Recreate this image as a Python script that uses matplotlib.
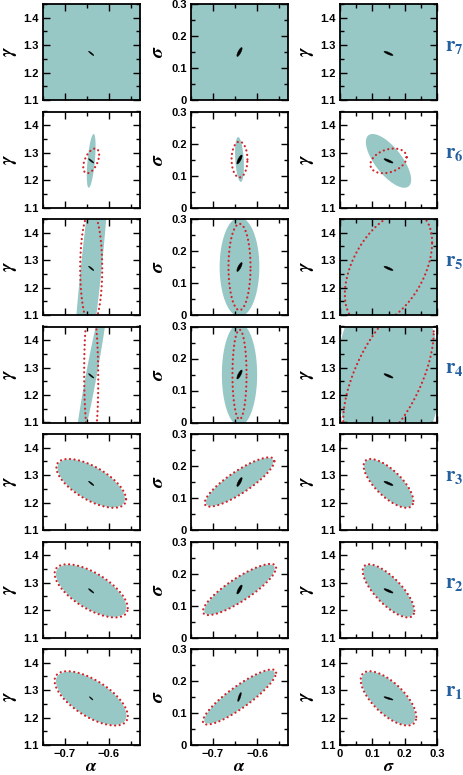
import numpy as np
import matplotlib
matplotlib.use('Agg')
import matplotlib.pyplot as plt
from matplotlib.ticker import FixedLocator, MultipleLocator

plt.rcParams['mathtext.fontset'] = 'stix'
plt.rcParams['font.family'] = ['Liberation Sans', 'DejaVu Sans']
plt.rcParams['font.weight'] = 'bold'

# fiducial values of the parameters
alpha0 = -0.64
sigma0 = 0.15
gamma0 = 1.27

row_names = ['7', '6', '5', '4', '3', '2', '1']   # top -> bottom

# ellipse half-extents and correlations per row (alpha, sigma, gamma)
# teal filled contours
fill_a_alpha = [1.0, 0.010, 0.045, 0.040, 0.0765, 0.080, 0.080]
fill_a_sigma = [1.0, 0.070, 0.155, 0.160, 0.075, 0.078, 0.083]
fill_a_gamma = [2.0, 0.098, 0.60, 0.33, 0.087, 0.0945, 0.0965]
fill_r_as = [0.0, -0.3, 0.0, 0.0, 0.85, 0.85, 0.88]
fill_r_ag = [0.0, 0.55, 0.85, 0.95, -0.65, -0.65, -0.65]
fill_r_sg = [0.0, -0.7, 0.0, 0.0, -0.72, -0.75, -0.68]

# red dotted contours
red_a_alpha = [1.0, 0.018, 0.025, 0.016, 0.079, 0.083, 0.083]
red_a_sigma = [1.0, 0.056, 0.135, 0.140, 0.077, 0.080, 0.086]
red_a_gamma = [2.0, 0.045, 0.21, 0.27, 0.089, 0.097, 0.099]
red_r_as = [0.0, 0.0, 0.0, 0.0, 0.85, 0.85, 0.88]
red_r_ag = [0.0, 0.5, 0.0, -0.05, -0.65, -0.65, -0.65]
red_r_sg = [0.0, 0.3, 0.45, 0.6, -0.72, -0.75, -0.68]

# small black contours
blk_a_alpha = [0.006, 0.006, 0.006, 0.006, 0.006, 0.006, 0.004]
blk_a_sigma = [0.014, 0.014, 0.014, 0.014, 0.014, 0.014, 0.014]
blk_a_gamma = [0.008, 0.008, 0.008, 0.008, 0.008, 0.008, 0.006]
blk_r_as = [0.8, 0.8, 0.8, 0.8, 0.8, 0.8, 0.8]
blk_r_ag = [-0.93, -0.93, -0.93, -0.93, -0.93, -0.93, -0.93]
blk_r_sg = [-0.85, -0.85, -0.85, -0.85, -0.85, -0.85, -0.85]

# axes
alpha_lim = (-0.75, -0.53)
sigma_lim = (0.0, 0.3)
gamma_lim = (1.1, 1.45)
alpha_ticks = [-0.7, -0.6]
alpha_labels = ['\u22120.7', '\u22120.6']
sigma_ticks = [0.0, 0.1, 0.2, 0.3]
sigma_labels = ['0', '0.1', '0.2', '0.3']
gamma_ticks = [1.1, 1.2, 1.3, 1.4]
gamma_labels = ['1.1', '1.2', '1.3', '1.4']

fill_color = '#97c8c6'
red_color = '#d0242a'
row_color = '#2360a0'


def ellipse(cx, cy, ax_, ay_, rho):
    t = np.linspace(0, 2 * np.pi, 400)
    x = cx + ax_ * np.cos(t)
    y = cy + ay_ * (rho * np.cos(t) + np.sqrt(1 - rho ** 2) * np.sin(t))
    return x, y


# panel: (x param, y param)
panels = [('alpha', 'gamma'), ('alpha', 'sigma'), ('sigma', 'gamma')]
centers = {'alpha': alpha0, 'sigma': sigma0, 'gamma': gamma0}
lims = {'alpha': alpha_lim, 'sigma': sigma_lim, 'gamma': gamma_lim}
ticks = {'alpha': (alpha_ticks, alpha_labels), 'sigma': (sigma_ticks, sigma_labels),
         'gamma': (gamma_ticks, gamma_labels)}
greek = {'alpha': r'$\alpha$', 'sigma': r'$\sigma$', 'gamma': r'$\gamma$'}


def pick(row, px, py, a_al, a_si, a_ga, r_as, r_ag, r_sg):
    a = {'alpha': a_al[row], 'sigma': a_si[row], 'gamma': a_ga[row]}
    r = {('alpha', 'sigma'): r_as[row], ('alpha', 'gamma'): r_ag[row],
         ('sigma', 'gamma'): r_sg[row]}
    return a[px], a[py], r[(px, py)]


W, H = 463, 775
fig = plt.figure(figsize=(W / 100, H / 100), dpi=100)

col_left = [42.7, 191, 340]
pw, ph = 97, 96
row_top0 = 4
pitch = 107.5

for i, name in enumerate(row_names):
    for j, (px, py) in enumerate(panels):
        left = col_left[j] / W
        bottom = 1 - (row_top0 + i * pitch + ph) / H
        ax = fig.add_axes([left, bottom, pw / W, ph / H])
        cx, cy = centers[px], centers[py]

        a1, a2, r = pick(i, px, py, fill_a_alpha, fill_a_sigma, fill_a_gamma,
                         fill_r_as, fill_r_ag, fill_r_sg)
        x, y = ellipse(cx, cy, a1, a2, r)
        ax.fill(x, y, color=fill_color, lw=0, zorder=1)

        a1, a2, r = pick(i, px, py, red_a_alpha, red_a_sigma, red_a_gamma,
                         red_r_as, red_r_ag, red_r_sg)
        x, y = ellipse(cx, cy, a1, a2, r)
        ax.plot(x, y, color=red_color, lw=1.6, ls=(0, (0.05, 2.0)),
                dash_capstyle='round', zorder=2)

        a1, a2, r = pick(i, px, py, blk_a_alpha, blk_a_sigma, blk_a_gamma,
                         blk_r_as, blk_r_ag, blk_r_sg)
        x, y = ellipse(cx, cy, a1, a2, r)
        ax.fill(x, y, color='black', lw=0.3, zorder=3)

        ax.set_xlim(*lims[px])
        ax.set_ylim(*lims[py])
        xt, xl = ticks[px]
        yt, yl = ticks[py]
        ax.xaxis.set_major_locator(FixedLocator(xt))
        ax.yaxis.set_major_locator(FixedLocator(yt))
        ax.xaxis.set_minor_locator(MultipleLocator(0.05))
        ax.yaxis.set_minor_locator(MultipleLocator(0.05))
        ax.set_yticklabels(yl, fontweight='bold')
        if i == len(row_names) - 1:
            ax.set_xticklabels(xl, fontweight='bold')
            ax.set_xlabel(greek[px], fontsize=13, labelpad=-1)
        else:
            ax.set_xticklabels([])
        ax.set_ylabel(greek[py], fontsize=14, labelpad=3)
        ax.tick_params(which='both', direction='in', top=True, right=True,
                       width=1.0, labelsize=8, pad=3)
        ax.tick_params(which='major', length=5)
        ax.tick_params(which='minor', length=2.8)
        for s in ax.spines.values():
            s.set_linewidth(1.3)

        if j == 2:
            ax.text(1.08, 0.56, r'$\mathbf{r}_{\mathbf{' + name + '}}$',
                    transform=ax.transAxes, color=row_color, fontsize=15,
                    ha='left', va='center')

fig.savefig('out.png', dpi=100)
